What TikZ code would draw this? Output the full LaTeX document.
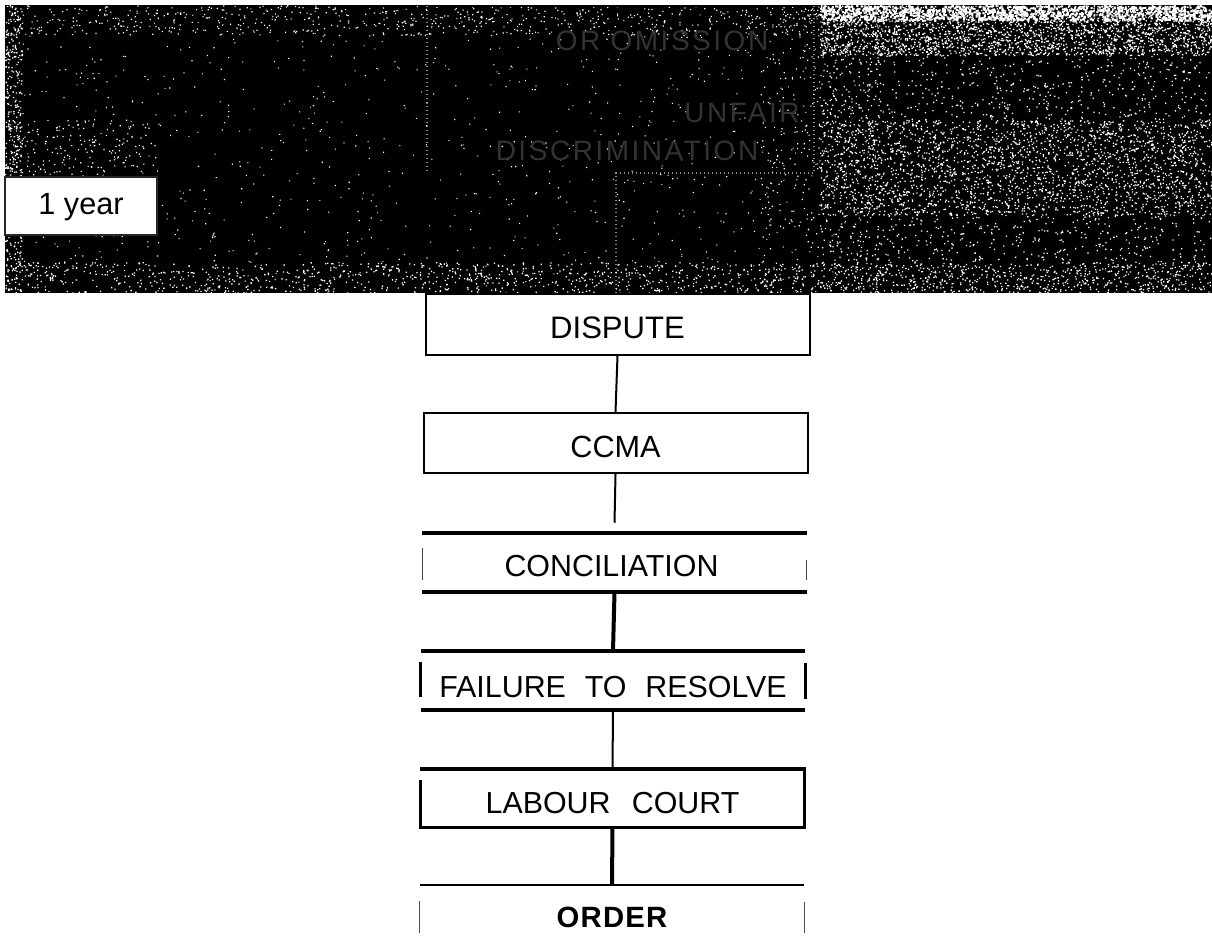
\documentclass[tikz,border=0pt]{standalone}
\usepackage{fontspec}
\setmainfont{Liberation Sans}

% scattered white flecks of the scanned band: x0 x1 y0 y1 count size
\newcommand{\speckle}[6]{%
    \fill[white] \foreach \n in {1,...,#5} {
        ({#1+rnd*(#2-#1)},{#3+rnd*(#4-#3)}) rectangle ++(#6,#6)
    };
}

\begin{document}
\begin{tikzpicture}[
    x=0.75pt, y=-0.75pt,
    flowbox/.style={rectangle, inner sep=0pt, minimum width=288pt, text depth=0pt,
        font=\fontsize{22.8}{26}\selectfont},
    closedbox/.style={flowbox, draw, line width=1.5pt},
    heavyrule/.style={line width=3pt},
    thinrule/.style={line width=1.5pt},
    sidetick/.style={line width=1pt, black!70},
    faded/.style={inner sep=0pt, text=black!80, font=\fontsize{21}{24}\selectfont\addfontfeature{LetterSpace=9}},
    fleck/.style={white, line width=0.8pt, dash pattern=on 0.8pt off 2.2pt, opacity=0.55},
]
    \useasboundingbox (0,0) rectangle (1212,941);
    \pgfmathsetseed{4711}

    % dark band
    \fill[black] (5,5) rectangle (1212,293);
    \speckle{5}{820}{5}{293}{900}{1.1}
    \speckle{5}{820}{5}{35}{650}{1.2}
    \speckle{5}{22}{5}{293}{380}{1.3}
    \speckle{5}{160}{120}{177}{200}{1.2}
    \speckle{5}{820}{262}{293}{900}{1.3}
    \speckle{760}{880}{5}{293}{450}{1.2}
    \speckle{820}{1212}{5}{293}{2300}{1.3}
    \speckle{820}{1212}{5}{55}{2200}{1.3}
    \speckle{820}{1212}{5}{20}{1100}{2}
    \speckle{820}{1212}{120}{215}{1900}{1.3}
    \speckle{820}{1212}{262}{293}{500}{1.3}

    % box hidden in the band
    \coordinate (bandtl) at (427,6);
    \coordinate (bandtr) at (814,6);
    \coordinate (bandbr) at (814,173);
    \coordinate (bandbl) at (427,173);
    \coordinate (bandjoin) at (616,173);
    \coordinate (bandfoot) at (616,293);
    \draw[black, line width=1.5pt] (bandtl) -- (bandtr);
    \draw[fleck] (bandtl) -- (bandbl);
    \draw[fleck] (bandtr) -- (bandbr) -- (bandjoin) -- (bandfoot);
    \node[faded] (omission) at (662,41) {OR OMISSION};
    \node[faded] (unfair) at (742,113) {UNFAIR};
    \node[faded] (discrimination) at (627,151) {DISCRIMINATION};

    \node[draw=black!85, line width=1.4pt, fill=white, inner sep=0pt, minimum width=113.5pt,
        minimum height=43.5pt, text height=17pt, text depth=4pt,
        font=\fontsize{23}{27}\selectfont] (year) at (81,206) {1 year};

    \node[closedbox, minimum height=45.5pt, text height=21pt, font=\fontsize{23.3}{27}\selectfont]
        (dispute) at (617.5,324.5) {DISPUTE};
    \node[closedbox, minimum height=45pt, text height=21.75pt, font=\fontsize{23}{27}\selectfont]
        (ccma) at (615.5,443) {CCMA};
    \node[flowbox, minimum height=44.25pt, text height=21pt]
        (conciliation) at (614.5,562.5) {CONCILIATION\hspace*{4.5pt}};
    \node[flowbox, minimum height=44.25pt, text height=25.5pt, execute at begin node={\spaceskip=.62em}]
        (failure) at (613,680.5) {FAILURE TO RESOLVE};
    \node[flowbox, minimum height=43.5pt, text height=23.25pt, execute at begin node={\spaceskip=.7em}]
        (labour) at (612.5,798) {LABOUR COURT};
    \node[flowbox, minimum height=42pt, text height=21.75pt,
        font=\fontsize{22}{26}\selectfont\bfseries\addfontfeature{LetterSpace=4}]
        (order) at (612,913) {ORDER};

    % open boxes
    \draw[heavyrule] (conciliation.north west) -- (conciliation.north east);
    \draw[heavyrule] (conciliation.south west) -- (conciliation.south east);
    \draw[sidetick] ([shift={(0,15)}]conciliation.north west) -- ([shift={(0,47)}]conciliation.north west);
    \draw[sidetick] ([shift={(0,27)}]conciliation.north east) -- ([shift={(0,47)}]conciliation.north east);
    \draw[heavyrule] (failure.north west) -- (failure.north east);
    \draw[heavyrule] (failure.south west) -- (failure.south east);
    \draw[line width=2pt] ([shift={(0,11)}]failure.north west) -- ([shift={(0,46)}]failure.north west);
    \draw[line width=2pt] ([shift={(0,12)}]failure.north east) -- ([shift={(0,48)}]failure.north east);
    \draw[line width=2.2pt] (labour.north west) -- (labour.north east) -- (labour.south east) -- (labour.south west)
        -- ([shift={(0,11)}]labour.north west);
    \draw[heavyrule] (labour.north west) -- (labour.north east);
    \draw[thinrule] (order.north west) -- (order.north east);
    \draw[sidetick] ([shift={(0,16)}]order.north west) -- ([shift={(0,48)}]order.north west);
    \draw[sidetick] ([shift={(0,17)}]order.north east) -- ([shift={(0,48)}]order.north east);

    % connectors
    \draw[thinrule] (dispute.south) -- (ccma.north);
    \draw[thinrule] (ccma.south) -- ([shift={(0,-10)}]conciliation.north);
    \draw[heavyrule] (conciliation.south) -- (failure.north);
    \draw[thinrule] (failure.south) -- (labour.north);
    \draw[heavyrule] (labour.south) -- (order.north);
\end{tikzpicture}
\end{document}
